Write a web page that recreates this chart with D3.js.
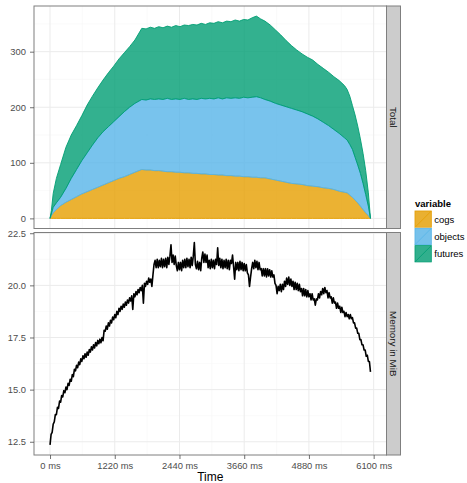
<!DOCTYPE html>
<html><head><meta charset="utf-8">
<script src="https://cdn.jsdelivr.net/npm/d3@7"></script>
<style>
body{margin:0;background:#fff}
svg{display:block}
text{font-family:"Liberation Sans",Arial,Helvetica,sans-serif}
</style>
</head><body>
<svg id="chart" width="467" height="483"></svg>
<script>
// ---------- data ----------
const areaTimes = [0,25,60,120,200,300,400,500,600,700,800,900,1000,1100,1200,1300,1400,1500,1600,1730,
  1810,1890,1970,2050,2130,2210,2290,2370,2450,2530,2610,2690,2770,2850,2930,3010,3090,3170,3250,3330,
  3410,3490,3570,3650,3730,3810,3890,3970,4050,4150,4250,4350,4450,4550,4650,4750,4850,4950,5050,5150,
  5250,5350,5450,5550,5600,5650,5700,5750,5800,5850,5900,5950,6000,6040];
const cogs = [0,5,10,16,23,29,34,39,44,48,52,56,60,64,68,72,75,79,83,88,
  87,87,86,86,85,84,84,83,83,82,82,81,81,80,80,79,79,78,78,77,
  77,76,76,75,75,74,74,73,73,71,69,67,65,63,62,61,59,58,57,55,
  54,52,49,47,46,42,38,33,28,22,16,10,5,0];
const objects = [0,3,10,12,15,25,38,49,60,70,80,89,96,101,106,111,117,121,124,126,
  126,128,128,129,129,132,130,132,131,134,132,134,133,136,135,137,136,139,137,140,
  139,141,140,143,142,144,145,144,141,140,138,137,136,135,133,131,129,126,122,118,
  113,108,104,98,95,91,86,77,68,59,47,33,17,0];
const futures = [0,6,25,44,59,74,78,79,81,86,88,90,93,97,100,104,106,109,114,128,
  128,129,128,130,129,130,130,132,131,132,133,134,134,135,134,136,136,137,137,138,
  138,140,139,140,140,143,145,142,141,137,132,126,119,113,108,104,102,101,98,97,
  96,95,95,94,91,87,79,76,70,62,54,43,24,0];

const memStep = 20; // sampling interval (ms)
const memory = [
  12.35,12.85,12.95,13.35,13.45,13.8,13.8,14.15,14.1,14.45,
  14.4,14.72,14.65,14.95,14.85,15.12,15.0,15.3,15.2,15.5,
  15.4,15.72,15.62,15.98,15.9,16.17,16.05,16.32,16.2,16.48,
  16.35,16.62,16.48,16.72,16.55,16.8,16.65,16.92,16.8,17.05,
  16.9,17.15,17.0,17.26,17.1,17.36,17.2,17.42,17.25,17.5,
  17.35,17.85,17.8,18.05,17.9,18.2,18.05,18.33,18.2,18.48,
  18.35,18.6,18.45,18.75,18.6,18.9,18.75,19.0,18.85,19.1,
  18.95,19.2,19.05,19.3,19.15,19.4,19.25,19.5,18.85,19.6,
  19.45,19.7,19.55,19.8,19.65,19.9,19.75,20.0,19.15,20.1,
  19.95,20.2,20.05,20.35,20.15,20.3,19.95,20.5,21.0,
  21.2,20.85,21.25,20.85,21.2,20.9,21.3,20.85,21.25,20.9,
  21.3,20.85,21.35,21.0,21.4,21.95,21.1,21.45,21.0,21.4,
  20.95,20.7,21.1,20.75,21.1,20.7,21.2,20.85,21.25,20.85,
  21.3,20.9,21.25,20.85,21.35,20.95,21.4,22.05,21.0,20.8,
  21.15,20.75,21.1,20.7,21.3,21.6,21.1,21.5,21.1,21.45,
  20.85,21.2,20.8,21.25,20.85,21.2,20.8,21.25,21.0,21.8,
  20.95,21.3,20.85,21.25,20.8,21.2,20.85,21.25,20.8,21.2,
  20.75,21.2,21.05,21.45,20.9,20.3,21.1,20.75,21.1,20.7,
  21.15,20.75,21.1,20.7,21.05,20.7,21.0,20.6,20.5,19.95,
  20.4,20.8,21.1,20.8,21.2,20.85,21.15,20.75,21.1,20.75,
  20.8,20.45,20.8,20.45,20.8,20.4,20.8,20.45,20.75,20.4,
  20.7,20.4,20.5,20.1,20.0,19.6,19.95,19.75,20.05,19.7,
  20.05,19.8,20.2,19.95,20.35,20.05,20.4,20.0,20.3,19.95,
  20.2,19.8,20.15,19.8,20.1,19.75,20.05,19.7,19.85,19.5,
  19.85,19.5,19.8,19.45,19.75,19.45,19.6,19.3,19.6,19.3,
  19.35,19.05,19.35,19.3,19.6,19.4,19.7,19.55,19.85,19.6,
  19.9,19.65,19.75,19.4,19.65,19.4,19.45,19.15,19.4,19.15,
  19.2,18.9,19.15,18.9,19.0,18.7,18.95,18.7,18.75,18.5,
  18.7,18.5,18.6,18.4,18.6,18.4,18.45,18.2,18.2,17.95,
  17.95,17.7,17.7,17.4,17.4,17.15,17.15,16.9,16.9,16.6,
  16.65,16.35,16.35,15.85];

const seriesNames = ["cogs","objects","futures"];
const seriesColors = ["#E69F00","#56B4E9","#009E73"];
const xTicks = [0,1220,2440,3660,4880,6100];
const xMinor = [610,1830,3050,4270,5490];
const totalTicks = [0,100,200,300];
const totalMinor = [50,150,250,350];
const memTicks = [12.5,15,17.5,20,22.5];
const memMinor = [13.75,16.25,18.75,21.25];
const stripLabels = ["Total","Memory in MiB"];
const xTitle = "Time";
const legendTitle = "variable";

// ---------- layout ----------
const svg = d3.select("#chart");
const L = 34, R = 386.5;
const topP = {y0: 6, y1: 228.5};
const botP = {y0: 232.5, y1: 455};
const stripW = 14;
const gridMajor = "#EBEBEB", gridMinor = "#F7F7F7", borderCol = "#7F7F7F";

function expand(ext, f = 0.05){ const r = ext[1]-ext[0]; return [ext[0]-r*f, ext[1]+r*f]; }

const table = areaTimes.map((t,i)=>({t, cogs:cogs[i], objects:objects[i], futures:futures[i]}));
const stacked = d3.stack().keys(seriesNames)(table);
const totalMax = d3.max(stacked[stacked.length-1], d=>d[1]);

const memTimes = memory.map((v,i)=>i*memStep);
const tExt = d3.extent(areaTimes.concat(memTimes));
const x = d3.scaleLinear().domain(expand(tExt)).range([L,R]);
const yTop = d3.scaleLinear().domain(expand([0,totalMax])).range([topP.y1, topP.y0]);
const yMem = d3.scaleLinear().domain(expand(d3.extent(memory))).range([botP.y1, botP.y0]);

// panels background + grids
function drawPanel(p, y, majors, minors){
  const g = svg.append("g");
  g.append("rect").attr("x",L).attr("y",p.y0).attr("width",R-L).attr("height",p.y1-p.y0).attr("fill","#fff");
  g.selectAll(".mnx").data(xMinor).join("line")
    .attr("x1",d=>x(d)).attr("x2",d=>x(d)).attr("y1",p.y0).attr("y2",p.y1)
    .attr("stroke",gridMinor).attr("stroke-width",0.6);
  g.selectAll(".mny").data(minors).join("line")
    .attr("x1",L).attr("x2",R).attr("y1",d=>y(d)).attr("y2",d=>y(d))
    .attr("stroke",gridMinor).attr("stroke-width",0.6);
  g.selectAll(".mjx").data(xTicks).join("line")
    .attr("x1",d=>x(d)).attr("x2",d=>x(d)).attr("y1",p.y0).attr("y2",p.y1)
    .attr("stroke",gridMajor).attr("stroke-width",1);
  g.selectAll(".mjy").data(majors).join("line")
    .attr("x1",L).attr("x2",R).attr("y1",d=>y(d)).attr("y2",d=>y(d))
    .attr("stroke",gridMajor).attr("stroke-width",1);
}
drawPanel(topP, yTop, totalTicks, totalMinor);
drawPanel(botP, yMem, memTicks, memMinor);

// stacked areas
const area = d3.area().x(d=>x(d.data.t)).y0(d=>yTop(d[0])).y1(d=>yTop(d[1]));
svg.append("g").selectAll("path").data(stacked).join("path")
  .attr("d", area)
  .attr("fill", (d,i)=>seriesColors[i]).attr("fill-opacity",0.8)
  .attr("stroke", (d,i)=>seriesColors[i]).attr("stroke-width",0.9)
  .attr("stroke-linejoin","round");

// memory line
const line = d3.line().x((d,i)=>x(memTimes[i])).y(d=>yMem(d));
svg.append("path").datum(memory).attr("d", line)
  .attr("fill","none").attr("stroke","#000").attr("stroke-width",1.6).attr("stroke-linejoin","round");

// panel borders
[topP, botP].forEach(p=>{
  svg.append("rect").attr("x",L).attr("y",p.y0).attr("width",R-L).attr("height",p.y1-p.y0)
    .attr("fill","none").attr("stroke",borderCol).attr("stroke-width",1);
});

// strips
[topP, botP].forEach((p,i)=>{
  svg.append("rect").attr("x",R).attr("y",p.y0).attr("width",stripW).attr("height",p.y1-p.y0)
    .attr("fill","#CCCCCC").attr("stroke",borderCol).attr("stroke-width",1);
  svg.append("text").attr("transform",`translate(${R+stripW/2},${(p.y0+p.y1)/2}) rotate(90)`)
    .attr("text-anchor","middle").attr("dominant-baseline","central")
    .attr("font-size","9.8px").attr("fill","#1A1A1A").text(stripLabels[i]);
});

// axes
function styleAxis(g){
  g.select(".domain").remove();
  g.selectAll(".tick line").attr("stroke","#4D4D4D").attr("stroke-width",0.8);
  g.selectAll(".tick text").attr("fill","#4D4D4D").attr("font-size","9.4px").attr("font-family",null);
}
svg.append("g").attr("transform",`translate(${L},0)`)
  .call(d3.axisLeft(yTop).tickValues(totalTicks).tickSize(4).tickPadding(4).tickFormat(d3.format("d")))
  .call(styleAxis);
svg.append("g").attr("transform",`translate(${L},0)`)
  .call(d3.axisLeft(yMem).tickValues(memTicks).tickSize(4).tickPadding(4).tickFormat(d3.format(".1f")))
  .call(styleAxis);
svg.append("g").attr("transform",`translate(0,${botP.y1})`)
  .call(d3.axisBottom(x).tickValues(xTicks).tickSize(4).tickPadding(3.5).tickFormat(d=>d+" ms"))
  .call(styleAxis);

svg.append("text").attr("x",(L+R)/2).attr("y",481).attr("text-anchor","middle")
  .attr("font-size","12px").attr("fill","#000").text(xTitle);

// legend
const lg = svg.append("g").attr("transform","translate(414.5,0)");
lg.append("text").attr("x",0.5).attr("y",206.5).attr("font-size","9.5px").attr("font-weight","bold")
  .attr("fill","#000").text(legendTitle);
const key = 17.3, ky0 = 210.5;
seriesNames.forEach((s,i)=>{
  const ky = ky0 + i*key;
  lg.append("rect").attr("x",0).attr("y",ky).attr("width",key).attr("height",key).attr("fill","#F2F2F2");
  lg.append("rect").attr("x",0.5).attr("y",ky+0.5).attr("width",key-1).attr("height",key-1)
    .attr("fill",seriesColors[i]).attr("fill-opacity",0.8).attr("stroke",seriesColors[i]).attr("stroke-width",0.8);
  lg.append("line").attr("x1",0.5).attr("y1",ky+key-0.5).attr("x2",key-0.5).attr("y2",ky+0.5)
    .attr("stroke",seriesColors[i]).attr("stroke-width",0.8);
  lg.append("text").attr("x",key+2.5).attr("y",ky+key/2).attr("dominant-baseline","central")
    .attr("font-size","9.5px").attr("fill","#000").text(s);
});
</script>
</body></html>
